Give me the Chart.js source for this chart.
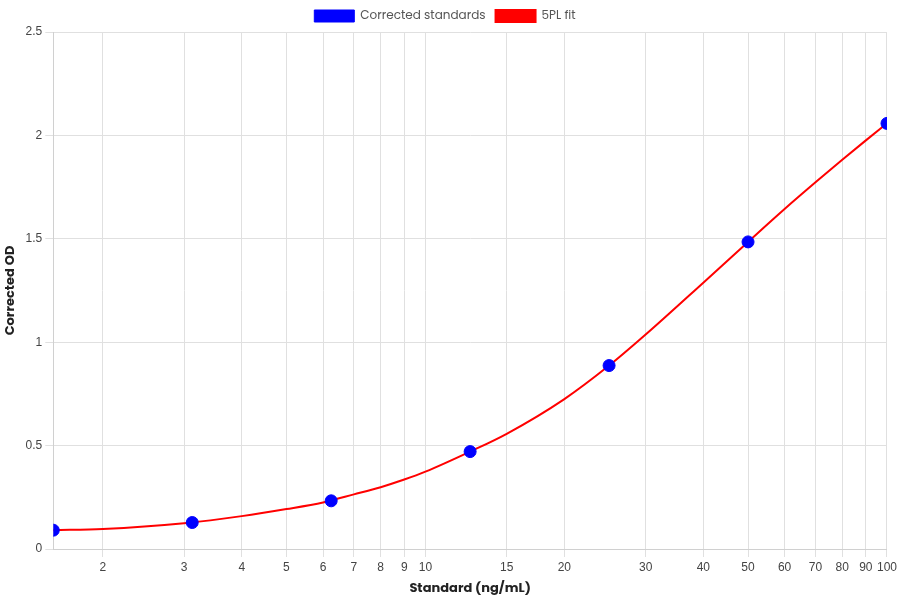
<!DOCTYPE html>
<html>
<head>
<meta charset="utf-8">
<script src="https://cdn.jsdelivr.net/npm/chart.js@4"></script>
<style>
  body { margin: 0; background: #fff; }
  #wrap { width: 900px; height: 600px; }
</style>
</head>
<body>
<div id="wrap"><canvas id="chart" width="900" height="600"></canvas></div>
<script>
// standards (ng/mL) and corrected OD
const stdConc = [1.5625, 3.125, 6.25, 12.5, 25, 50, 100];
const stdOD = [0.091, 0.128, 0.233, 0.471, 0.887, 1.485, 2.058];

// 5PL fit curve
const fitConc = [1.5625, 2, 3, 4, 5, 6, 7, 8, 9, 10, 12.5, 15, 20, 25, 30, 40, 50, 60, 70, 80, 90, 100];
const fitOD = [0.091, 0.097, 0.125, 0.159, 0.193, 0.225, 0.264, 0.299, 0.336, 0.374, 0.471, 0.557, 0.725, 0.887, 1.037, 1.288, 1.485, 1.644, 1.773, 1.882, 1.976, 2.058];

const xTicks = [2, 3, 4, 5, 6, 7, 8, 9, 10, 15, 20, 30, 40, 50, 60, 70, 80, 90, 100];
const yTicks = [0, 0.5, 1, 1.5, 2, 2.5];

const toPts = (xs, ys) => xs.map((x, i) => ({ x, y: ys[i] }));
const titleFont = { family: 'Poppins, Inter, sans-serif', size: 13, weight: 'bold' };

new Chart(document.getElementById('chart'), {
  type: 'scatter',
  data: {
    datasets: [
      {
        label: 'Corrected standards',
        data: toPts(stdConc, stdOD),
        backgroundColor: '#0000ff',
        borderColor: '#0000ff',
        pointRadius: 6,
        order: 0
      },
      {
        label: '5PL fit',
        type: 'line',
        data: toPts(fitConc, fitOD),
        borderColor: '#ff0000',
        backgroundColor: '#ff0000',
        borderWidth: 2,
        pointRadius: 0,
        cubicInterpolationMode: 'monotone',
        fill: false,
        order: 1
      }
    ]
  },
  options: {
    responsive: false,
    animation: false,
    layout: { padding: { left: 0, right: 10, top: 0, bottom: 0 } },
    plugins: {
      legend: {
        labels: {
          boxWidth: 40,
          boxHeight: 12,
          color: '#555',
          font: { family: 'Poppins, Inter, sans-serif', size: 12 }
        }
      },
      tooltip: { enabled: false }
    },
    scales: {
      x: {
        type: 'logarithmic',
        min: 1.5625,
        max: 100,
        afterBuildTicks: (axis) => { axis.ticks = xTicks.map(v => ({ value: v })); },
        ticks: {
          color: '#444',
          autoSkip: false,
          maxRotation: 0,
          padding: 3,
          font: { family: 'Liberation Sans, Arial, sans-serif', size: 12 },
          callback: (v) => String(v)
        },
        grid: { color: '#e0e0e0' },
        border: { color: '#d0d0d0' },
        title: { display: true, text: 'Standard (ng/mL)', color: '#222', font: titleFont, padding: { top: 4, bottom: 3 } }
      },
      y: {
        min: 0,
        max: 2.5,
        afterBuildTicks: (axis) => { axis.ticks = yTicks.map(v => ({ value: v })); },
        ticks: {
          color: '#444',
          font: { family: 'Liberation Sans, Arial, sans-serif', size: 12 },
          callback: (v) => String(v)
        },
        grid: { color: '#e0e0e0' },
        border: { color: '#d0d0d0' },
        title: { display: true, text: 'Corrected OD', color: '#222', font: titleFont, padding: { top: 3, bottom: 4 } }
      }
    }
  }
});
</script>
</body>
</html>
